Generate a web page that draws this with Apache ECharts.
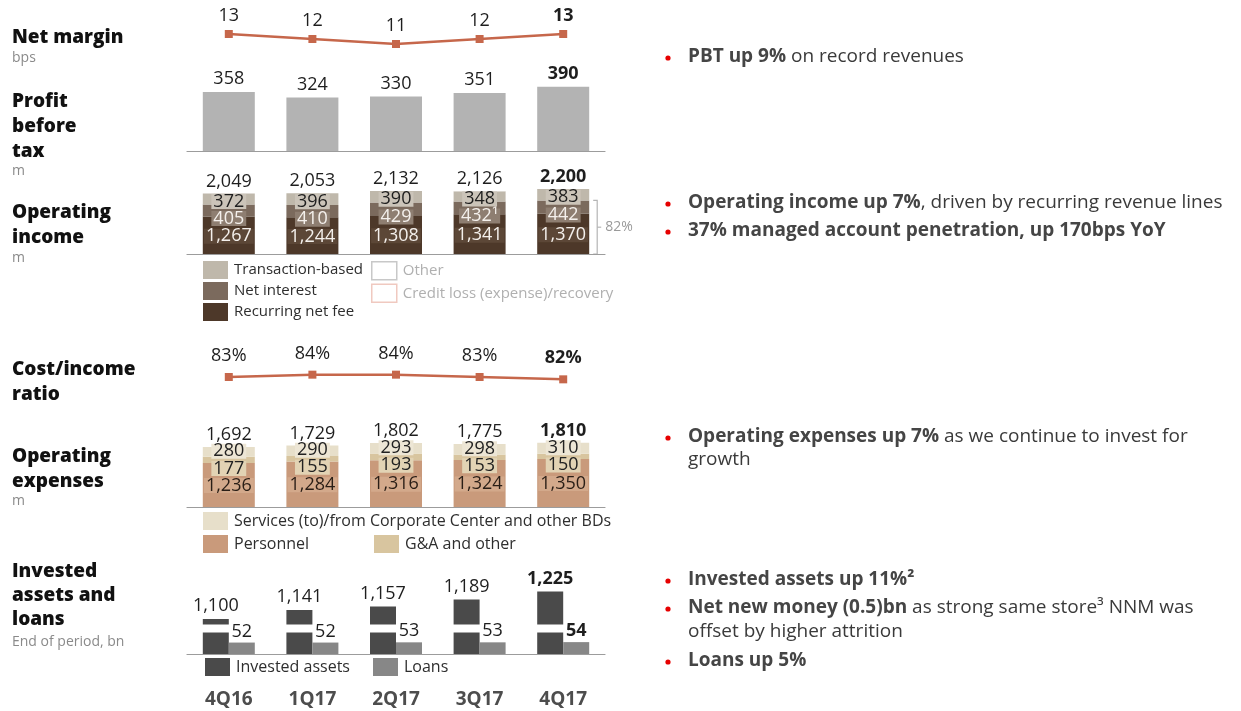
<!DOCTYPE html>
<html>
<head>
<meta charset="utf-8">
<script src="https://cdn.jsdelivr.net/npm/echarts@6/dist/echarts.min.js"></script>
<style>
  html, body { margin: 0; padding: 0; background: #fff; }
  #main { width: 1241px; height: 711px; }
</style>
</head>
<body>
<div id="main"></div>
<script>
// quarters
const cats = ['4Q16', '1Q17', '2Q17', '3Q17', '4Q17'];

// net margin, bps
const netMargin = [13, 12, 11, 12, 13];
// profit before tax, m
const pbt = [358, 324, 330, 351, 390];
// operating income, m
const incRecurring = [1267, 1244, 1308, 1341, 1370];
const incInterest = [405, 410, 429, 432, 442];
const incTransaction = [372, 396, 390, 348, 383];
const incOther = [5, 3, 5, 5, 5];
const incTotal = [2049, 2053, 2132, 2126, 2200];
// cost/income ratio, %
const costIncome = [83, 84, 84, 83, 82];
// operating expenses, m
const opPersonnel = [1236, 1284, 1316, 1324, 1350];
const opGA = [177, 155, 193, 153, 150];
const opServices = [280, 290, 293, 298, 310];
const opTotal = [1692, 1729, 1802, 1775, 1810];
// invested assets and loans, bn
const investedAssets = [1100, 1141, 1157, 1189, 1225];
const loans = [52, 52, 53, 53, 54];

const FONT = '"Open Sans", "Noto Sans", sans-serif';
const LINE_RED = '#c6674b';
const fmt = v => Number(v).toLocaleString('en-US');

// last quarter printed in bold
function boldLast(arr) {
    return arr.map((v, i) => (i === arr.length - 1 ? { value: v, label: { fontWeight: 'bold' } } : v));
}

const chart = echarts.init(document.getElementById('main'));

const gridLeft = 187;
const gridWidth = 418;
const grids = [
    { left: gridLeft, width: gridWidth, top: 29, height: 20 },   // net margin
    { left: gridLeft, width: gridWidth, top: 52, height: 99 },   // PBT
    { left: gridLeft, width: gridWidth, top: 183, height: 71 },  // operating income
    { left: gridLeft, width: gridWidth, top: 370, height: 14 },  // cost/income
    { left: gridLeft, width: gridWidth, top: 436, height: 71 },  // operating expenses
    { left: gridLeft, width: gridWidth, top: 575, height: 79 }   // invested assets
];

const xAxes = grids.map((g, i) => ({
    type: 'category',
    gridIndex: i,
    data: cats,
    axisTick: { show: false },
    axisLine: { show: i !== 0 && i !== 3, lineStyle: { color: '#9c9c9c', width: 1.2 } },
    axisLabel: {
        show: i === 5,
        margin: 36,
        fontFamily: FONT,
        fontSize: 19,
        fontWeight: 'bold',
        color: '#4d4d4d'
    }
}));

const hiddenY = {
    axisLine: { show: false },
    axisTick: { show: false },
    axisLabel: { show: false },
    splitLine: { show: false }
};
const yAxes = [
    Object.assign({ type: 'value', gridIndex: 0, min: 10, max: 14 }, hiddenY),
    Object.assign({ type: 'value', gridIndex: 1, min: 0, max: 600 }, hiddenY),
    Object.assign({ type: 'value', gridIndex: 2, min: 0, max: 2400 }, hiddenY),
    Object.assign({ type: 'value', gridIndex: 3, min: 80, max: 86 }, hiddenY),
    Object.assign({ type: 'value', gridIndex: 4, min: 0, max: 2000 }, hiddenY),
    Object.assign({
        type: 'value', gridIndex: 5, min: 0, max: 1300, z: 10,
        breaks: [{ start: 100, end: 1077, gap: 36 }],
        breakArea: {
            show: true,
            zigzagAmplitude: 0,
            itemStyle: { color: '#fff', borderColor: '#fff', borderWidth: 0, opacity: 1 }
        }
    }, hiddenY)
];

const valueLabel = {
    show: true,
    fontFamily: FONT,
    fontSize: 18,
    color: '#1e1e1e'
};

function stackLabel(color, bg, offsetY) {
    return Object.assign({}, valueLabel, {
        position: 'inside',
        color: color,
        backgroundColor: bg,
        padding: [0, 2],
        lineHeight: 15,
        offset: [0, offsetY || 0],
        formatter: p => fmt(p.value)
    });
}

const series = [
    {
        name: 'Net margin',
        type: 'line',
        xAxisIndex: 0, yAxisIndex: 0,
        data: boldLast(netMargin),
        symbol: 'rect', symbolSize: 8,
        lineStyle: { color: LINE_RED, width: 2.5 },
        itemStyle: { color: LINE_RED },
        label: Object.assign({}, valueLabel, { position: 'top', distance: 5 })
    },
    {
        name: 'Profit before tax',
        type: 'bar',
        xAxisIndex: 1, yAxisIndex: 1,
        data: boldLast(pbt),
        barWidth: 52,
        itemStyle: { color: '#b3b3b3' },
        label: Object.assign({}, valueLabel, { position: 'top', distance: 4 })
    },
    {
        name: 'Recurring net fee',
        type: 'bar', stack: 'inc',
        xAxisIndex: 2, yAxisIndex: 2,
        data: incRecurring,
        barWidth: 52, barGap: '-100%',
        itemStyle: { color: '#4d3829' },
        label: stackLabel('#f4f0ec', '#5c4737', 1)
    },
    {
        name: 'Net interest',
        type: 'bar', stack: 'inc',
        xAxisIndex: 2, yAxisIndex: 2,
        data: incInterest,
        barWidth: 52, barGap: '-100%',
        itemStyle: { color: '#7b6a5d' },
        label: Object.assign(stackLabel('#f4f0ec', '#8e7e71', 8), {
            formatter: p => fmt(p.value) + (p.dataIndex === 3 ? '¹' : '')
        })
    },
    {
        name: 'Transaction-based',
        type: 'bar', stack: 'inc',
        xAxisIndex: 2, yAxisIndex: 2,
        data: incTransaction,
        barWidth: 52, barGap: '-100%',
        itemStyle: { color: '#bfb8ab' },
        label: stackLabel('#1e1e1e', '#cbc4b9', 2.5)
    },
    {
        name: 'Other',
        type: 'bar', stack: 'inc',
        xAxisIndex: 2, yAxisIndex: 2,
        data: incOther,
        barWidth: 52, barGap: '-100%',
        itemStyle: { color: '#ffffff' }
    },
    {
        name: 'Credit loss (expense)/recovery',
        type: 'bar', stack: 'inc',
        xAxisIndex: 2, yAxisIndex: 2,
        data: [],
        barWidth: 52, barGap: '-100%',
        itemStyle: { color: '#ffffff' }
    },
    {
        name: 'Income total',
        type: 'bar',
        xAxisIndex: 2, yAxisIndex: 2,
        data: boldLast(incTotal),
        barWidth: 52, barGap: '-100%', z: 1,
        itemStyle: { color: 'transparent' },
        label: Object.assign({}, valueLabel, { position: 'top', distance: 3, formatter: p => fmt(p.value) })
    },
    {
        name: 'Cost/income ratio',
        type: 'line',
        xAxisIndex: 3, yAxisIndex: 3,
        data: boldLast(costIncome),
        symbol: 'rect', symbolSize: 8,
        lineStyle: { color: LINE_RED, width: 2.5 },
        itemStyle: { color: LINE_RED },
        label: Object.assign({}, valueLabel, { position: 'top', distance: 8, formatter: p => p.value + '%' })
    },
    {
        name: 'Personnel',
        type: 'bar', stack: 'op',
        xAxisIndex: 4, yAxisIndex: 4,
        data: opPersonnel,
        barWidth: 52, barGap: '-100%',
        itemStyle: { color: '#c99a7b' },
        label: stackLabel('#2a1e16', '#d3a98b', 0.5)
    },
    {
        name: 'G&A and other',
        type: 'bar', stack: 'op',
        xAxisIndex: 4, yAxisIndex: 4,
        data: opGA,
        barWidth: 52, barGap: '-100%',
        itemStyle: { color: '#d8c59f' },
        label: stackLabel('#222', '#e2d3b4', 8.5)
    },
    {
        name: 'Services (to)/from Corporate Center and other BDs',
        type: 'bar', stack: 'op',
        xAxisIndex: 4, yAxisIndex: 4,
        data: opServices,
        barWidth: 52, barGap: '-100%',
        itemStyle: { color: '#e7dfca' },
        label: stackLabel('#222', '#ede6d5', -0.5)
    },
    {
        name: 'Opex total',
        type: 'bar',
        xAxisIndex: 4, yAxisIndex: 4,
        data: boldLast(opTotal),
        barWidth: 52, barGap: '-100%', z: 1,
        itemStyle: { color: 'transparent' },
        label: Object.assign({}, valueLabel, { position: 'top', distance: 3, formatter: p => fmt(p.value) })
    },
    {
        name: 'Invested assets',
        type: 'bar',
        xAxisIndex: 5, yAxisIndex: 5,
        data: boldLast(investedAssets),
        barWidth: 26, barGap: 0,
        itemStyle: { color: '#4a4a4a' },
        label: Object.assign({}, valueLabel, { position: 'top', distance: 4, formatter: p => fmt(p.value) })
    },
    {
        name: 'Loans',
        type: 'bar',
        xAxisIndex: 5, yAxisIndex: 5,
        data: boldLast(loans),
        barWidth: 26, barGap: 0, zlevel: 1,
        itemStyle: { color: '#878787' },
        label: Object.assign({}, valueLabel, { position: 'top', distance: 2 })
    }
];

const legendBase = {
    orient: 'vertical',
    icon: 'rect',
    itemWidth: 25,
    itemHeight: 18,
    itemGap: 3,
    selectedMode: false,
    padding: 0,
    textStyle: { fontFamily: FONT, fontSize: 15, color: '#2e2e2e', padding: [0, 0, 0, 1] }
};
const opexText = Object.assign({}, legendBase.textStyle, { fontSize: 16 });
const legends = [
    Object.assign({}, legendBase, { left: 203, top: 261, data: ['Transaction-based', 'Net interest', 'Recurring net fee'] }),
    Object.assign({}, legendBase, {
        left: 371, top: 261,
        textStyle: Object.assign({}, legendBase.textStyle, { color: '#b0b0b0' }),
        data: [
            { name: 'Other', itemStyle: { color: '#fff', borderColor: '#c8c8c8', borderWidth: 1.5 } },
            { name: 'Credit loss (expense)/recovery', itemStyle: { color: '#fff', borderColor: '#f0c9c0', borderWidth: 1.5 } }
        ]
    }),
    Object.assign({}, legendBase, { left: 203, top: 512, itemGap: 5, textStyle: opexText, data: ['Services (to)/from Corporate Center and other BDs', 'Personnel'] }),
    Object.assign({}, legendBase, { left: 374, top: 535, textStyle: opexText, data: ['G&A and other'] }),
    Object.assign({}, legendBase, { left: 205, top: 658, textStyle: opexText, data: ['Invested assets'] }),
    Object.assign({}, legendBase, { left: 373, top: 658, textStyle: opexText, data: ['Loans'] })
];

// left-hand row titles
function title(text, x, y, lh) {
    return {
        type: 'text', x: x, y: y, silent: true,
        style: { text: text, font: '800 19px ' + FONT, fill: '#111', lineHeight: lh || 25 }
    };
}
function unit(text, y) {
    return {
        type: 'text', x: 12, y: y, silent: true,
        style: { text: text, font: '14px ' + FONT, fill: '#8a8a8a' }
    };
}
// right-hand bullet points
function bullet(rich, y, dot) {
    const els = [{
        type: 'text', x: 688, y: y, silent: true,
        style: {
            text: rich, font: '19px ' + FONT, fill: '#3a3a3a', verticalAlign: 'middle',
            rich: { b: { fontFamily: FONT, fontSize: 19, fontWeight: 'bold', fill: '#454545' } }
        }
    }];
    if (dot) els.push({ type: 'circle', silent: true, shape: { cx: 668, cy: y + 1, r: 2.6 }, style: { fill: '#e60000' } });
    return els;
}

const graphic = [
    title('Net margin', 12, 25),
    unit('bps', 51),
    title('Profit\nbefore\ntax', 12, 89),
    unit('m', 164),
    title('Operating\nincome', 12, 200),
    unit('m', 251),
    title('Cost/income\nratio', 12, 357),
    title('Operating\nexpenses', 12, 444),
    unit('m', 494),
    title('Invested\nassets and\nloans', 12, 560, 24),
    unit('End of period, bn', 635)
].concat(
    bullet('{b|PBT up 9%} on record revenues', 57, true),
    bullet('{b|Operating income up 7%}, driven by recurring revenue lines', 203, true),
    bullet('{b|37% managed account penetration, up 170bps YoY}', 231, true),
    bullet('{b|Operating expenses up 7%} as we continue to invest for', 437, true),
    bullet('growth', 460, false),
    bullet('{b|Invested assets up 11%²}', 580, true),
    bullet('{b|Net new money (0.5)bn} as strong same store³ NNM was', 608, true),
    bullet('offset by higher attrition', 632, false),
    bullet('{b|Loans up 5%}', 661, true)
);

chart.setOption({
    animation: false,
    backgroundColor: '#fff',
    grid: grids,
    xAxis: xAxes,
    yAxis: yAxes,
    legend: legends,
    series: series,
    graphic: graphic
});

// bracket marking recurring + net interest share of the last quarter
const last = cats.length - 1;
const pTop = chart.convertToPixel({ gridIndex: 2 }, [last, incRecurring[last] + incInterest[last]]);
const pBot = chart.convertToPixel({ gridIndex: 2 }, [last, 0]);
const bx = pTop[0] + 34;
const mid = (pTop[1] + pBot[1]) / 2;
chart.setOption({
    graphic: graphic.concat([
        {
            type: 'polyline', silent: true,
            shape: { points: [[bx - 4, pTop[1]], [bx, pTop[1]], [bx, pBot[1]], [bx - 4, pBot[1]]] },
            style: { stroke: '#b5b5b5', lineWidth: 1.2, fill: null }
        },
        {
            type: 'line', silent: true,
            shape: { x1: bx, y1: mid, x2: bx + 4, y2: mid },
            style: { stroke: '#b5b5b5', lineWidth: 1.2 }
        },
        {
            type: 'text', x: bx + 8, y: mid, silent: true,
            style: { text: '82%', font: '14px ' + FONT, fill: '#9a9a9a', verticalAlign: 'middle' }
        }
    ])
});
</script>
</body>
</html>
